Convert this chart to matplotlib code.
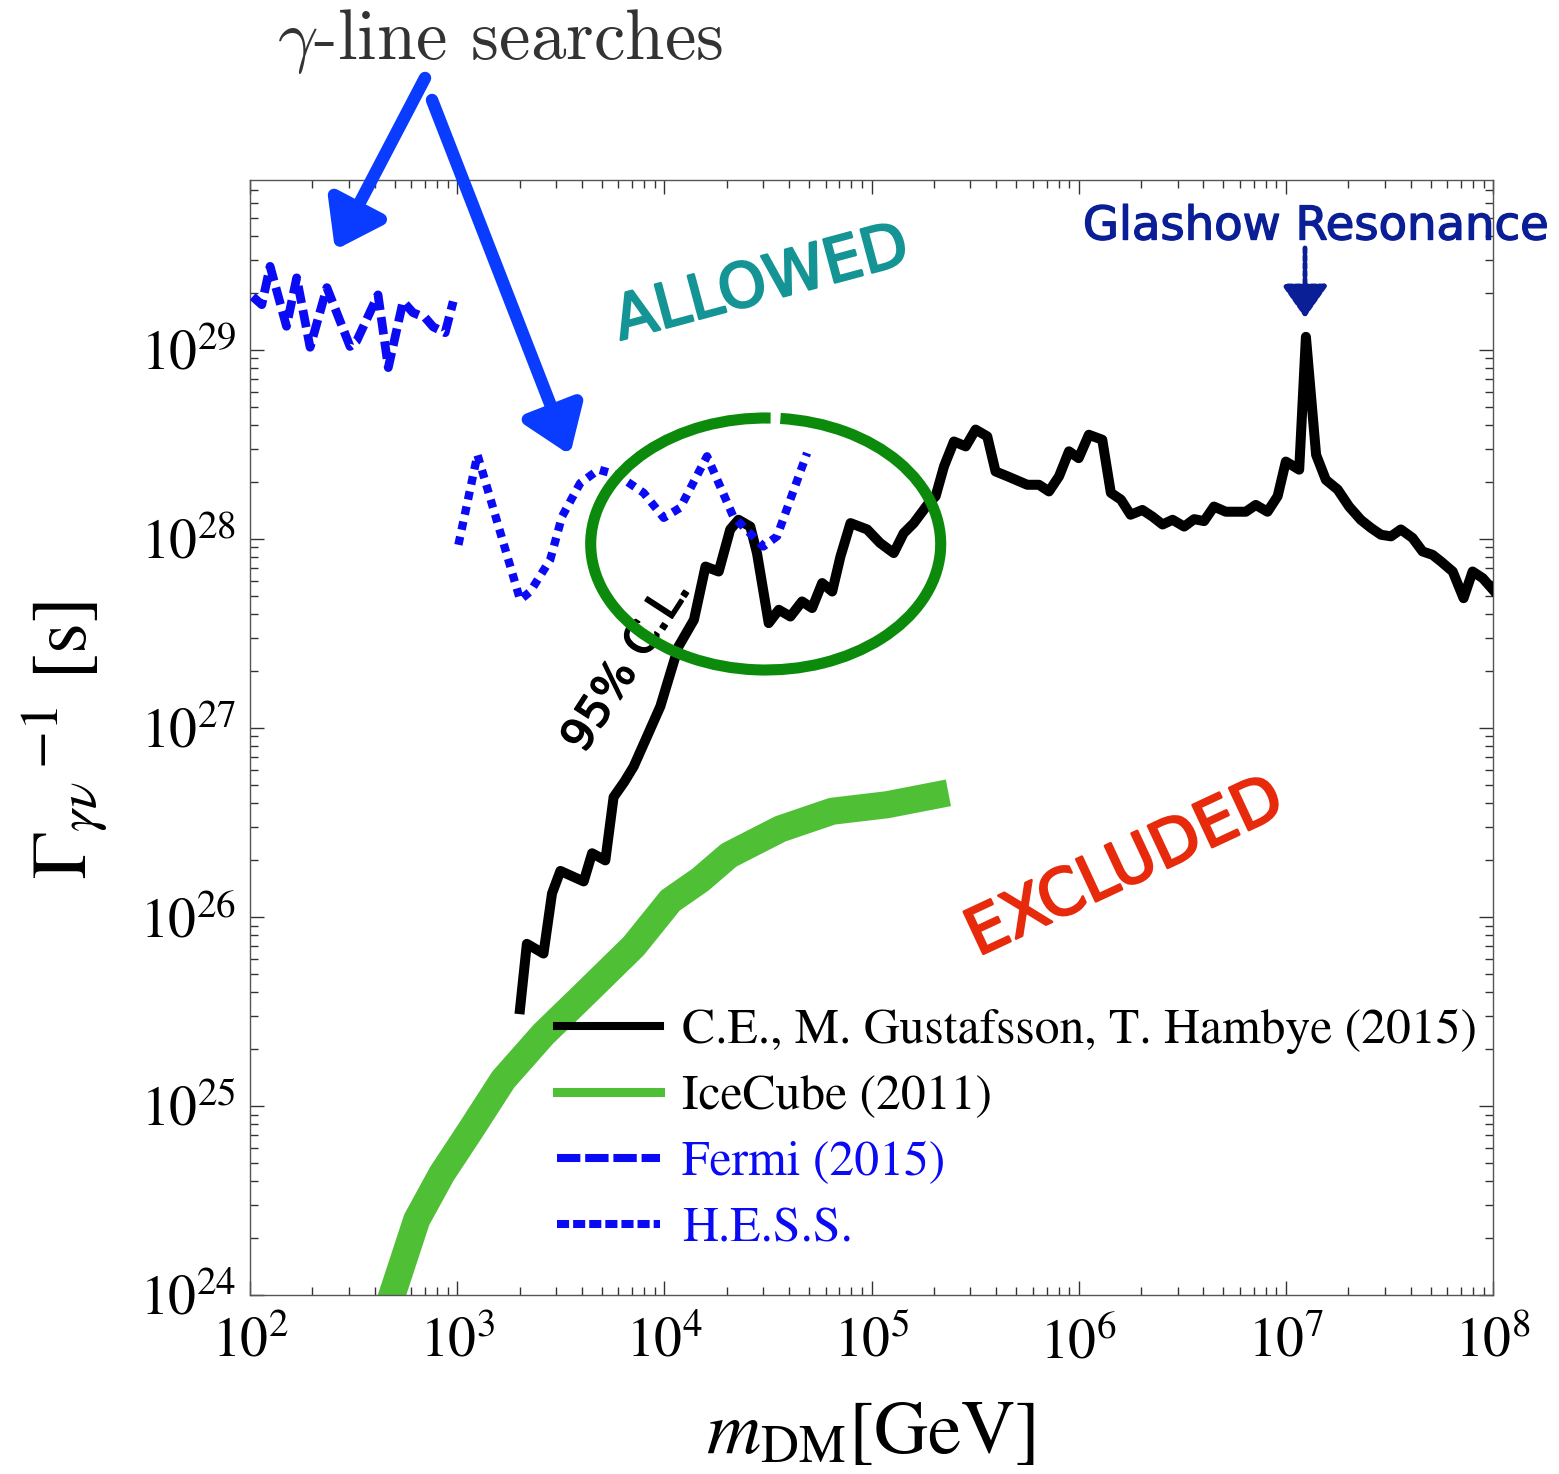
import numpy as np
import matplotlib
matplotlib.use('Agg')
import matplotlib.pyplot as plt
import matplotlib.patheffects as pe
from matplotlib.lines import Line2D
from matplotlib.patches import Arc
from matplotlib.ticker import LogLocator, LogFormatterMathtext, NullFormatter

plt.rcParams['mathtext.fontset'] = 'stix'
plt.rcParams['font.family'] = ['STIXGeneral', 'DejaVu Sans']

# ---------------- data ----------------
ce_mass = [2.01e3, 2.17e3, 2.61e3, 2.87e3, 3.15e3, 4.08e3, 4.48e3, 5.19e3, 5.69e3, 6.41e3,
           7.11e3, 8.25e3, 9.57e3, 1.07e4, 1.17e4, 1.39e4, 1.58e4, 1.83e4, 2.08e4, 2.28e4,
           2.60e4, 2.80e4, 3.19e4, 3.57e4, 4.06e4, 4.62e4, 5.17e4, 5.78e4, 6.46e4, 7.08e4,
           7.92e4, 9.53e4, 1.10e5, 1.28e5, 1.43e5, 1.60e5, 1.86e5, 2.04e5, 2.24e5, 2.50e5,
           2.85e5, 3.18e5, 3.62e5, 3.97e5, 4.53e5, 5.65e5, 6.43e5, 7.19e5, 8.04e5, 8.98e5,
           1.00e6, 1.12e6, 1.30e6, 1.43e6, 1.60e6, 1.78e6, 2.03e6, 2.27e6, 2.54e6, 2.84e6,
           3.23e6, 3.61e6, 4.03e6, 4.50e6, 5.13e6, 6.41e6, 7.16e6, 8.16e6, 9.13e6, 1.00e7,
           1.16e7, 1.25e7, 1.40e7, 1.56e7, 1.78e7, 2.02e7, 2.30e7, 2.58e7, 2.88e7, 3.22e7,
           3.59e7, 4.09e7, 4.57e7, 5.11e7, 5.61e7, 6.39e7, 7.21e7, 7.97e7, 8.92e7, 1.00e8]
ce_lifetime = [3.25e25, 7.2e25, 6.4e25, 1.33e26, 1.75e26, 1.54e26, 2.17e26, 1.99e26, 4.30e26, 5.18e26,
               6.24e26, 9.0e26, 1.30e27, 1.95e27, 2.69e27, 3.73e27, 7.13e27, 6.71e27, 1.12e28, 1.26e28,
               1.16e28, 8.4e27, 3.58e27, 4.21e27, 3.88e27, 4.66e27, 4.30e27, 5.83e27, 5.26e27, 8.05e27,
               1.21e28, 1.12e28, 9.5e27, 8.4e27, 1.07e28, 1.21e28, 1.51e28, 1.68e28, 2.42e28, 3.27e28,
               3.08e28, 3.78e28, 3.48e28, 2.27e28, 2.14e28, 1.93e28, 1.93e28, 1.78e28, 2.14e28, 2.90e28,
               2.67e28, 3.55e28, 3.34e28, 1.75e28, 1.61e28, 1.34e28, 1.42e28, 1.31e28, 1.19e28, 1.26e28,
               1.16e28, 1.27e28, 1.24e28, 1.48e28, 1.39e28, 1.39e28, 1.51e28, 1.39e28, 1.68e28, 2.56e28,
               2.32e28, 1.17e29, 2.78e28, 2.05e28, 1.82e28, 1.48e28, 1.26e28, 1.14e28, 1.05e28, 1.03e28,
               1.12e28, 1.01e28, 8.57e27, 8.22e27, 7.58e27, 6.71e27, 4.85e27, 6.71e27, 6.19e27, 5.37e27]

icecube_mass = [4.5e2, 6.38e2, 8.43e2, 1.16e3, 1.67e3, 2.61e3, 4.24e3, 7.11e3,
                1.07e4, 1.49e4, 2.05e4, 3.63e4, 6.46e4, 1.19e5, 2.35e5]
icecube_lifetime = [7.8e23, 2.50e24, 4.37e24, 7.43e24, 1.38e25, 2.40e25, 4.02e25, 7.0e25,
                    1.22e26, 1.57e26, 2.12e26, 2.92e26, 3.62e26, 3.92e26, 4.53e26]

fermi_mass = [103, 114, 125, 150, 168, 195, 235, 304, 327, 415, 465, 548, 612, 700, 766, 875, 957]
fermi_lifetime = [1.91e29, 1.73e29, 2.76e29, 1.33e29, 2.40e29, 1.03e29, 2.13e29, 1.04e29, 1.11e29,
                  1.95e29, 8.04e28, 1.80e29, 1.57e29, 1.48e29, 1.32e29, 1.23e29, 1.80e29]

hess_mass = [1014, 1253, 2014, 2254, 2812, 3206, 3926, 4819, 5902, 7943, 9931,
             11940, 16070, 21528, 30061, 34995, 48865]
hess_lifetime = [9.29e27, 2.78e28, 4.75e27, 5.26e27, 7.74e27, 1.31e28, 1.97e28, 2.32e28, 2.18e28,
                 1.75e28, 1.29e28, 1.46e28, 2.73e28, 1.31e28, 9.10e27, 1.03e28, 2.84e28]

legend_labels = ['C.E., M. Gustafsson, T. Hambye (2015)', 'IceCube (2011)', 'Fermi (2015)', 'H.E.S.S.']
xtick_values = [1e2, 1e3, 1e4, 1e5, 1e6, 1e7, 1e8]
ytick_values = [1e24, 1e25, 1e26, 1e27, 1e28, 1e29]

# ---------------- figure ----------------
W, H = 1559, 1474
fig = plt.figure(figsize=(W / 100, H / 100), dpi=100)
AX_L, AX_R, AX_T, AX_B = 250, 1493, 180, 1295
ax = fig.add_axes([AX_L / W, 1 - AX_B / H, (AX_R - AX_L) / W, (AX_B - AX_T) / H])


def axfrac(px, py):
    return ((px - AX_L) / (AX_R - AX_L), (AX_B - py) / (AX_B - AX_T))


blue = '#0a0af5'
green = '#4fbf35'

ax.plot(icecube_mass, icecube_lifetime, color=green, lw=19.5, solid_capstyle='butt',
        solid_joinstyle='round', zorder=2)
ax.plot(ce_mass, ce_lifetime, color='black', lw=7.2, solid_joinstyle='round', zorder=3)
ax.plot(fermi_mass, fermi_lifetime, color=blue, lw=6.3, dashes=(2.0, 0.8), zorder=3)
ax.plot(hess_mass, hess_lifetime, color=blue, lw=6.0, dashes=(1.0, 0.85), zorder=3)

ax.set_xscale('log')
ax.set_yscale('log')
ax.set_xlim(1e2, 1e8)
ax.set_ylim(1e24, 7.9e29)

ax.xaxis.set_major_locator(LogLocator(base=10, numticks=20))
ax.yaxis.set_major_locator(LogLocator(base=10, numticks=20))
ax.xaxis.set_minor_locator(LogLocator(base=10, subs=np.arange(2, 10), numticks=200))
ax.yaxis.set_minor_locator(LogLocator(base=10, subs=np.arange(2, 10), numticks=200))
ax.xaxis.set_major_formatter(LogFormatterMathtext())
ax.yaxis.set_major_formatter(LogFormatterMathtext())
ax.xaxis.set_minor_formatter(NullFormatter())
ax.yaxis.set_minor_formatter(NullFormatter())
ax.set_xticks(xtick_values)
ax.set_yticks(ytick_values)

ax.tick_params(which='both', direction='in', top=True, right=True, color='#333333', width=1.0)
ax.tick_params(which='major', length=10, labelsize=40)
ax.tick_params(axis='x', which='major', pad=16)
ax.tick_params(axis='y', which='major', pad=10)
ax.tick_params(which='minor', length=6)
for s in ax.spines.values():
    s.set_color('#555555')
    s.set_linewidth(1.0)

ax.set_xlabel(r'$m_{\rm DM}$[GeV]', fontsize=54, va='center')
ax.xaxis.set_label_coords(0.499, -0.126)
ax.set_ylabel(r'$\Gamma_{\gamma\nu}\,^{-1}$ [s]', fontsize=57, va='center')
ax.yaxis.set_label_coords(-0.149, 0.498)

# legend
handles = [Line2D([], [], color='black', lw=5.8),
           Line2D([], [], color=green, lw=6.5),
           Line2D([], [], color=blue, lw=5.8, dashes=(2.9, 0.6)),
           Line2D([], [], color=blue, lw=5.8, dashes=(1.5, 0.5))]
leg = ax.legend(handles, legend_labels, loc='upper left', bbox_to_anchor=(0.247, 0.257),
                frameon=False, fontsize=35.7, handlelength=2.08, handletextpad=0.44,
                labelspacing=0.41, borderpad=0, borderaxespad=0)
for t, c in zip(leg.get_texts(), ['black', 'black', blue, blue]):
    t.set_color(c)

# ellipse
cx, cy = axfrac(765.7, 544)
ax.add_patch(Arc((cx, cy), 350 / (AX_R - AX_L), 252 / (AX_B - AX_T), theta1=88, theta2=444,
                 transform=ax.transAxes, color='#0b8a0b', lw=8, zorder=4))

# annotations
hand = 'DejaVu Sans'


def thick(color, w):
    return [pe.withStroke(linewidth=w, foreground=color)]


x, y = axfrac(762, 285)
ax.text(x, y, 'ALLOWED', transform=ax.transAxes, fontsize=44, color='#149494', rotation=15,
        ha='center', va='center', family=hand, path_effects=thick('#149494', 1.8))
x, y = axfrac(1125, 868)
ax.text(x, y, 'EXCLUDED', transform=ax.transAxes, fontsize=46, color='#e82a0c', rotation=25,
        ha='center', va='center', family=hand, path_effects=thick('#e82a0c', 1.8))
x, y = axfrac(627, 665)
ax.text(x, y, '95% C.L.', transform=ax.transAxes, fontsize=32, color='black', rotation=57,
        ha='center', va='center', family=hand, path_effects=thick('black', 1.2))
x, y = axfrac(1316, 227)
ax.text(x, y, 'Glashow Resonance', transform=ax.transAxes, fontsize=33.5, color='#0a1e96',
        ha='center', va='center', family=hand, clip_on=False, path_effects=thick('#0a1e96', 1.0))

ax.annotate('', xy=axfrac(1305, 318), xytext=axfrac(1305, 248), xycoords='axes fraction',
            textcoords='axes fraction', annotation_clip=False,
            arrowprops=dict(arrowstyle='-|>,head_length=20,head_width=14', mutation_scale=1,
                            color='#0a1e96', lw=3.5, linestyle=(0, (1, 0.6)), shrinkA=0, shrinkB=0))

arrow_blue = '#0a3cff'
for tail, tip in [((425, 78), (335, 250)), ((432, 100), (570, 455))]:
    ax.annotate('', xy=axfrac(*tip), xytext=axfrac(*tail), xycoords='axes fraction',
                textcoords='axes fraction', annotation_clip=False,
                arrowprops=dict(arrowstyle='-|>,head_length=27,head_width=19', mutation_scale=1,
                                color=arrow_blue, lw=9, shrinkA=0, shrinkB=0))

fig.text(500 / W, 1 - 42 / H, r'$\gamma$-line searches', fontsize=51, color='#333333',
         family='cmr10', math_fontfamily='cm', ha='center', va='center')

fig.savefig('out.png', dpi=100)
